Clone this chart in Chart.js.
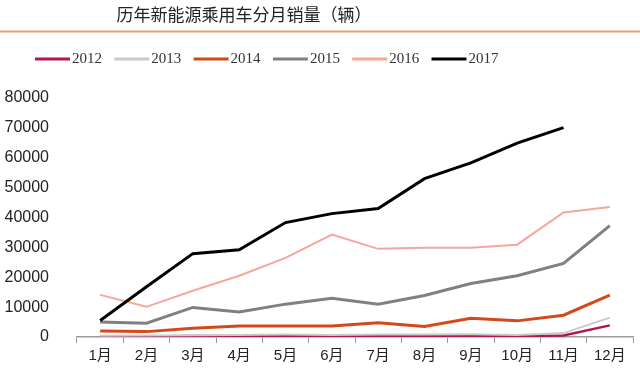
<!DOCTYPE html>
<html>
<head>
<meta charset="utf-8">
<script src="https://cdn.jsdelivr.net/npm/chart.js@4"></script>
<style>
  body { margin: 0; background: #fff; }
  #wrap { width: 640px; height: 372px; }
</style>
</head>
<body>
<div id="wrap"><canvas id="salesChart"></canvas></div>
<script>
/* monthly sales data */
var months = ['1月', '2月', '3月', '4月', '5月', '6月', '7月', '8月', '9月', '10月', '11月', '12月'];
var years = ['2012', '2013', '2014', '2015', '2016', '2017'];
var sales2012 = [200, 200, 300, 300, 300, 300, 300, 300, 400, 300, 500, 3900];
var sales2013 = [400, 500, 600, 700, 800, 700, 800, 800, 900, 700, 1300, 6500];
var sales2014 = [2000, 1800, 2900, 3700, 3700, 3700, 4800, 3500, 6300, 5400, 7300, 14000];
var sales2015 = [5000, 4600, 9900, 8400, 11000, 13000, 11000, 13900, 17900, 20500, 24600, 37300];
var sales2016 = [14100, 10100, 15500, 20500, 26500, 34300, 29500, 29900, 29900, 30900, 41700, 43500];
var sales2017 = [5500, 16800, 27900, 29200, 38300, 41300, 43000, 53000, 58300, 64900, 70100, null];
var yTicks = [0, 10000, 20000, 30000, 40000, 50000, 60000, 70000, 80000];

var colors = ['#b3164c', '#cacaca', '#d4481c', '#808080', '#f3a898', '#000000'];
var widths = [2.5, 2, 3, 3, 2, 3];
var series = [sales2012, sales2013, sales2014, sales2015, sales2016, sales2017];

var datasets = years.map(function (y, i) {
    return {
        label: y,
        data: series[i],
        borderColor: colors[i],
        backgroundColor: colors[i],
        borderWidth: widths[i],
        pointRadius: 0,
        tension: 0,
        order: 5 - i
    };
});

/* title, orange rule and legend on top */
var header = {
    id: 'header',
    afterDraw: function (chart) {
        var c = chart.ctx;
        c.save();
        c.fillStyle = '#222';
        c.font = '17px "Noto Sans CJK SC"';
        c.textAlign = 'center';
        c.textBaseline = 'middle';
        c.fillText('历年新能源乘用车分月销量（辆）', 244, 15);

        c.strokeStyle = '#e3a468';
        c.lineWidth = 2;
        c.beginPath();
        c.moveTo(0, 31.5);
        c.lineTo(640, 31.5);
        c.stroke();

        c.font = '15px "Liberation Serif"';
        c.textAlign = 'left';
        chart.data.datasets.forEach(function (ds, i) {
            var x = 35 + i * 79.3;
            c.strokeStyle = ds.borderColor;
            c.lineWidth = 3;
            c.beginPath();
            c.moveTo(x, 59);
            c.lineTo(x + 35, 59);
            c.stroke();
            c.fillStyle = '#333';
            c.fillText(ds.label, x + 37, 59);
        });
        c.restore();
    }
};

var ctx = document.getElementById('salesChart').getContext('2d');
var myChart = new Chart(ctx, {
    type: 'line',
    data: {
        labels: months,
        datasets: datasets
    },
    options: {
        responsive: true,
        maintainAspectRatio: false,
        animation: false,
        layout: { padding: { top: 98, right: 7, bottom: 3, left: 0 } },
        plugins: {
            legend: { display: false },
            tooltip: { enabled: false }
        },
        scales: {
            x: {
                offset: true,
                grid: {
                    display: true,
                    drawOnChartArea: false,
                    offset: true,
                    tickLength: 6,
                    color: '#9a9a9a',
                    lineWidth: 1
                },
                border: { display: true, color: '#9a9a9a', width: 1.5 },
                ticks: {
                    padding: 4,
                    color: '#222',
                    font: { family: '"Liberation Sans", "Noto Sans CJK SC"', size: 15 }
                }
            },
            y: {
                min: 0,
                max: 80000,
                afterBuildTicks: function (scale) {
                    scale.ticks = yTicks.map(function (v) { return { value: v }; });
                },
                afterFit: function (scale) { scale.width = 77; },
                grid: { display: false },
                border: { display: false },
                ticks: {
                    padding: 20,
                    color: '#222',
                    font: { family: '"Liberation Sans"', size: 16 },
                    callback: function (v) { return String(v); }
                }
            }
        }
    },
    plugins: [header]
});
</script>
</body>
</html>
